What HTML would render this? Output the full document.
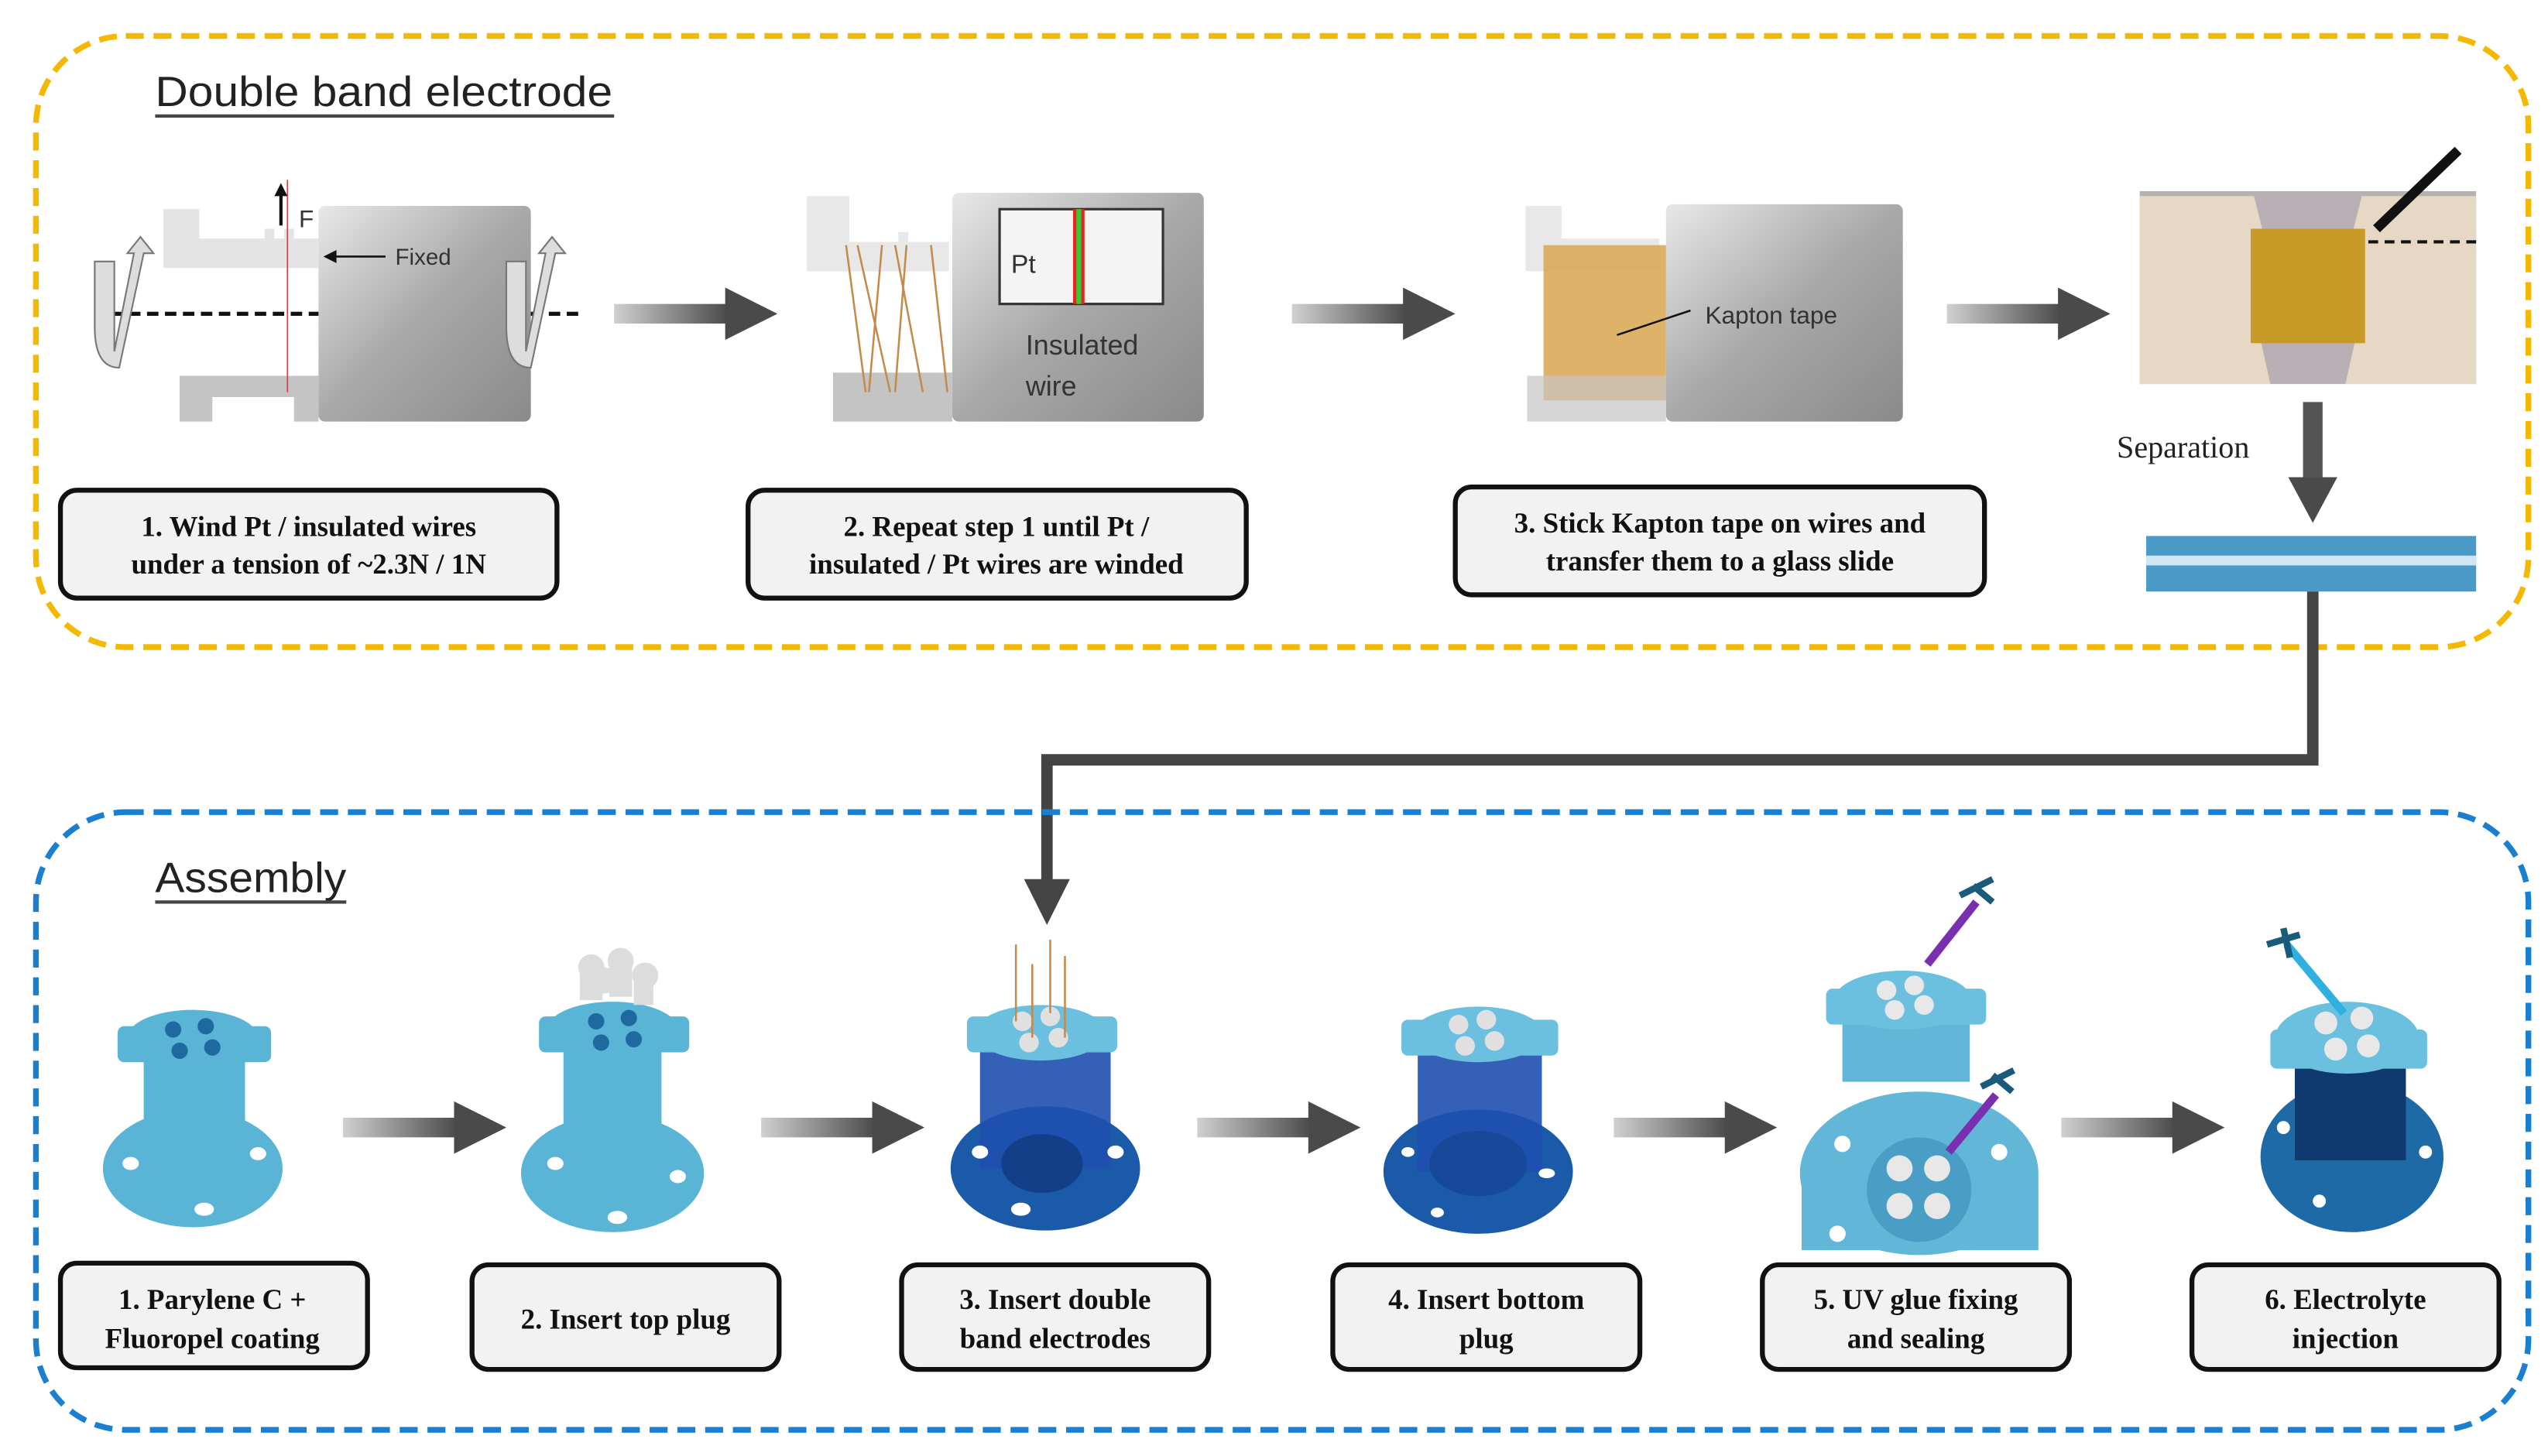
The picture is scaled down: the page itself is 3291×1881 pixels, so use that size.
<!DOCTYPE html>
<html><head><meta charset="utf-8"><style>
html,body{margin:0;padding:0;background:#fff;}
svg{display:block;}
.lbl{font-family:"Liberation Serif",serif;font-weight:bold;font-size:17.5px;fill:#111;text-anchor:middle;}
.ttl{font-family:"Liberation Sans",sans-serif;font-size:26px;fill:#222;}
.sm{font-family:"Liberation Sans",sans-serif;font-size:15px;fill:#333;}
</style></head><body>
<svg width="3291" height="1881" viewBox="0 0 1560 891" preserveAspectRatio="none" xmlns="http://www.w3.org/2000/svg">
<defs>
<linearGradient id="sh" x1="0" x2="1"><stop offset="0" stop-color="#d0d0d0"/><stop offset="1" stop-color="#4a4a4a"/></linearGradient>
<linearGradient id="gb" x1="0" x2="1" y1="0" y2="1"><stop offset="0" stop-color="#e8e8e8"/><stop offset="0.5" stop-color="#a8a8a8"/><stop offset="1" stop-color="#8a8a8a"/></linearGradient>
<g id="arr"><rect x="0" y="-6" width="70" height="12" fill="url(#sh)"/><polygon points="68,-16 100,0 68,16" fill="#4a4a4a"/></g>
<g id="box"><rect x="0" y="0" width="188" height="64" rx="10" fill="#f2f2f2" stroke="#111" stroke-width="3"/></g>
</defs>

<!-- Yellow region -->
<rect x="22" y="22" width="1526" height="374" rx="55" fill="none" stroke="#f5b800" stroke-width="3.5" stroke-dasharray="11,6"/>
<text x="95" y="65" class="ttl" textLength="280" lengthAdjust="spacingAndGlyphs">Double band electrode</text>
<line x1="95" y1="71" x2="376" y2="71" stroke="#444" stroke-width="2"/>

<!-- device 1 -->
<g>
<path d="M100,128 h22 v18 h40 v-6 h6 v6 h6 v-6 h6 v6 h15 v18 h-95z" fill="#e4e4e4"/>
<rect x="195" y="126" width="130" height="132" rx="4" fill="url(#gb)"/>
<path d="M110,230 h85 v28 h-85z M130,258 h50 v-15 h-50z" fill="#c4c4c4"/>
<line x1="176" y1="110" x2="176" y2="240" stroke="#e33" stroke-width="0.8"/>
<line x1="172" y1="138" x2="172" y2="118" stroke="#111" stroke-width="2"/><polygon points="168,120 172,112 176,120" fill="#111"/>
<text x="183" y="139" class="sm">F</text>
<line x1="200" y1="157" x2="236" y2="157" stroke="#111" stroke-width="1.2"/><polygon points="198,157 206,153 206,161" fill="#111"/>
<text x="242" y="162" class="sm" style="font-size:14px">Fixed</text>
<line x1="68" y1="192" x2="195" y2="192" stroke="#111" stroke-width="2.5" stroke-dasharray="7,4"/>
<line x1="325" y1="192" x2="355" y2="192" stroke="#111" stroke-width="2.5" stroke-dasharray="7,4"/>
<path d="M58,160 v40 q0,25 15,25 l15,-70 h6 l-8,-10 l-8,10 h4 l-12,60 v-55z" fill="#ddd" stroke="#777"/>
<path d="M310,160 v40 q0,25 15,25 l15,-70 h6 l-8,-10 l-8,10 h4 l-12,60 v-55z" fill="#ddd" stroke="#777"/>
</g>
<use href="#arr" x="376" y="192"/>

<!-- device 2 -->
<g>
<path d="M494,120 h26 v28 h30 v-6 h6 v6 h25 v18 h-87z" fill="#e8e8e8"/>
<rect x="583" y="118" width="154" height="140" rx="4" fill="url(#gb)"/>
<path d="M510,228 h73 v30 h-73z" fill="#c4c4c4"/>
<g stroke="#c58a4a" stroke-width="1.2"><line x1="518" y1="150" x2="530" y2="240"/><line x1="525" y1="150" x2="545" y2="240"/><line x1="540" y1="150" x2="532" y2="240"/><line x1="548" y1="150" x2="565" y2="240"/><line x1="555" y1="150" x2="548" y2="240"/><line x1="570" y1="150" x2="580" y2="240"/></g>
<rect x="612" y="128" width="100" height="58" fill="#f4f4f4" stroke="#333" stroke-width="1.5"/>
<rect x="657" y="128" width="7" height="58" fill="#e22"/><rect x="659" y="128" width="3" height="58" fill="#3c3"/>
<text x="619" y="167" class="sm" style="font-size:16px">Pt</text>
<text x="628" y="217" class="sm" style="font-size:17px">Insulated</text>
<text x="628" y="242" class="sm" style="font-size:17px">wire</text>
</g>
<use href="#arr" x="791" y="192"/>

<!-- device 3 -->
<g>
<path d="M934,126 h22 v20 h60 v20 h-82z" fill="#e8e8e8"/>
<rect x="1020" y="125" width="145" height="133" rx="4" fill="url(#gb)"/>
<rect x="945" y="150" width="75" height="95" fill="#d9a550" opacity="0.85"/>
<path d="M935,230 h85 v28 h-85z" fill="#c4c4c4" opacity="0.7"/>
<line x1="990" y1="205" x2="1035" y2="190" stroke="#111" stroke-width="1.2"/>
<text x="1044" y="198" class="sm" style="font-size:15px">Kapton tape</text>
</g>
<use href="#arr" x="1192" y="192"/>

<!-- photo -->
<rect x="1310" y="117" width="206" height="118" fill="#b8b0b4"/>
<path d="M1310,120 h70 l10,40 l-10,30 l10,45 h-80z" fill="#e6d8c4"/>
<path d="M1516,120 h-70 l-10,40 l10,30 l-10,45 h80z" fill="#e6d8c4"/>
<rect x="1378" y="140" width="70" height="70" fill="#c89a28"/>
<line x1="1450" y1="148" x2="1516" y2="148" stroke="#111" stroke-width="2" stroke-dasharray="6,4"/>
<line x1="1455" y1="140" x2="1505" y2="92" stroke="#111" stroke-width="6"/>
<text x="1296" y="280" style="font-family:'Liberation Serif',serif;font-size:19px;fill:#222">Separation</text>
<rect x="1410" y="246" width="12" height="50" fill="#555"/>
<polygon points="1401,292 1431,292 1416,320" fill="#4a4a4a"/>
<rect x="1314" y="328" width="202" height="34" fill="#4a9ac8"/>
<rect x="1314" y="340" width="202" height="6" fill="#cfe6f3"/>

<!-- connector -->
<polyline points="1416,362 1416,465 641,465 641,540" fill="none" stroke="#444" stroke-width="7"/>
<polygon points="627,538 655,538 641,566" fill="#444"/>

<!-- Top labels -->
<rect x="37" y="300" width="304" height="66" rx="10" fill="#f2f2f2" stroke="#111" stroke-width="3"/>
<text x="189" y="328" class="lbl">1. Wind Pt / insulated  wires</text>
<text x="189" y="351" class="lbl">under a tension of ~2.3N / 1N</text>
<rect x="458" y="300" width="305" height="66" rx="10" fill="#f2f2f2" stroke="#111" stroke-width="3"/>
<text x="610" y="328" class="lbl">2. Repeat step 1 until Pt /</text>
<text x="610" y="351" class="lbl">insulated / Pt wires are winded</text>
<rect x="891" y="298" width="324" height="66" rx="10" fill="#f2f2f2" stroke="#111" stroke-width="3"/>
<text x="1053" y="326" class="lbl">3. Stick Kapton tape on wires and</text>
<text x="1053" y="349" class="lbl">transfer them to a glass slide</text>

<!-- Blue region -->
<rect x="22" y="497" width="1526" height="378" rx="55" fill="none" stroke="#1a7fd0" stroke-width="3.5" stroke-dasharray="11,6"/>
<text x="95" y="546" class="ttl" textLength="117" lengthAdjust="spacingAndGlyphs">Assembly</text>
<line x1="95" y1="552" x2="212" y2="552" stroke="#444" stroke-width="2"/>

<!-- device 1 -->
<g fill="#5ab4d6">
<ellipse cx="118" cy="715" rx="55" ry="36"/>
<rect x="88" y="635" width="62" height="80"/>
<rect x="72" y="628" width="94" height="22" rx="4"/>
<ellipse cx="118" cy="635" rx="40" ry="17"/>
</g>
<g fill="#1e6aa0"><circle cx="106" cy="630" r="5"/><circle cx="126" cy="628" r="5"/><circle cx="110" cy="643" r="5"/><circle cx="130" cy="641" r="5"/></g>
<g fill="#fff"><ellipse cx="80" cy="712" rx="5" ry="4"/><ellipse cx="158" cy="706" rx="5" ry="4"/><ellipse cx="125" cy="740" rx="6" ry="4"/></g>
<use href="#arr" x="210" y="690"/>

<!-- device 2 -->
<g fill="#5ab4d6">
<ellipse cx="375" cy="718" rx="56" ry="36"/>
<rect x="345" y="628" width="60" height="90"/>
<rect x="330" y="622" width="92" height="22" rx="4"/>
<ellipse cx="375" cy="630" rx="40" ry="17"/>
</g>
<g fill="#1e6aa0"><circle cx="365" cy="625" r="5"/><circle cx="385" cy="623" r="5"/><circle cx="368" cy="638" r="5"/><circle cx="388" cy="636" r="5"/></g>
<g fill="#dcdcdc"><rect x="355" y="590" width="14" height="22"/><rect x="373" y="588" width="14" height="22"/><rect x="388" y="595" width="12" height="20"/><circle cx="362" cy="592" r="8"/><circle cx="380" cy="588" r="8"/><circle cx="395" cy="597" r="8"/><circle cx="370" cy="600" r="8"/></g>
<g fill="#fff"><ellipse cx="340" cy="712" rx="5" ry="4"/><ellipse cx="415" cy="720" rx="5" ry="4"/><ellipse cx="378" cy="745" rx="6" ry="4"/></g>
<use href="#arr" x="466" y="690"/>

<!-- device 3 -->
<g>
<ellipse cx="640" cy="715" rx="58" ry="38" fill="#1a5aa8"/>
<rect x="600" y="635" width="80" height="80" fill="#1f4fb0" opacity="0.9"/>
<rect x="592" y="622" width="92" height="22" rx="4" fill="#6ac0de"/>
<ellipse cx="637" cy="632" rx="40" ry="17" fill="#6ac0de"/>
<g fill="#e0e0e0"><circle cx="626" cy="625" r="6"/><circle cx="643" cy="622" r="6"/><circle cx="630" cy="638" r="6"/><circle cx="648" cy="635" r="6"/></g>
<g stroke="#c58a4a" stroke-width="1.2"><line x1="622" y1="578" x2="622" y2="625"/><line x1="632" y1="590" x2="632" y2="635"/><line x1="643" y1="575" x2="643" y2="620"/><line x1="652" y1="585" x2="652" y2="635"/></g>
<ellipse cx="638" cy="712" rx="25" ry="18" fill="#123f88"/>
<g fill="#fff"><ellipse cx="600" cy="705" rx="5" ry="4"/><ellipse cx="683" cy="705" rx="5" ry="4"/><ellipse cx="625" cy="740" rx="6" ry="4"/></g>
</g>
<use href="#arr" x="733" y="690"/>

<!-- device 4 -->
<g>
<ellipse cx="905" cy="717" rx="58" ry="38" fill="#1a5aa8"/>
<rect x="868" y="640" width="76" height="77" fill="#1f4fb0" opacity="0.9"/>
<rect x="858" y="624" width="96" height="22" rx="4" fill="#6ac0de"/>
<ellipse cx="905" cy="633" rx="40" ry="17" fill="#6ac0de"/>
<g fill="#e0e0e0"><circle cx="893" cy="627" r="6"/><circle cx="910" cy="624" r="6"/><circle cx="897" cy="640" r="6"/><circle cx="915" cy="637" r="6"/></g>
<ellipse cx="905" cy="712" rx="30" ry="20" fill="#164a98"/>
<g fill="#fff"><ellipse cx="862" cy="705" rx="4" ry="3"/><ellipse cx="947" cy="718" rx="5" ry="3"/><ellipse cx="880" cy="742" rx="4" ry="3"/></g>
</g>
<use href="#arr" x="988" y="690"/>

<!-- device 5 -->
<g>
<rect x="1128" y="612" width="78" height="50" fill="#62b6d8"/>
<rect x="1118" y="605" width="98" height="22" rx="4" fill="#6ac0de"/>
<ellipse cx="1165" cy="612" rx="42" ry="18" fill="#6ac0de"/>
<g fill="#e8e8e8"><circle cx="1155" cy="606" r="6"/><circle cx="1172" cy="603" r="6"/><circle cx="1160" cy="618" r="6"/><circle cx="1178" cy="615" r="6"/></g>
<rect x="1103" y="720" width="145" height="45" fill="#62b6d8"/>
<ellipse cx="1175" cy="718" rx="73" ry="50" fill="#62b6d8"/>
<ellipse cx="1175" cy="728" rx="32" ry="32" fill="#4a9ec6"/>
<g fill="#e8e8e8"><circle cx="1163" cy="715" r="8"/><circle cx="1186" cy="715" r="8"/><circle cx="1163" cy="738" r="8"/><circle cx="1186" cy="738" r="8"/></g>
<g fill="#fff"><circle cx="1128" cy="700" r="5"/><circle cx="1224" cy="705" r="5"/><circle cx="1125" cy="755" r="5"/></g>
<line x1="1180" y1="590" x2="1210" y2="552" stroke="#7a2fb0" stroke-width="5"/>
<path d="M1200,548 l20,-10 M1208,542 l12,10" stroke="#1a5a7a" stroke-width="4"/>
<line x1="1193" y1="705" x2="1222" y2="670" stroke="#7a2fb0" stroke-width="5"/>
<path d="M1213,665 l20,-10 M1220,658 l12,10" stroke="#1a5a7a" stroke-width="4"/>
</g>
<use href="#arr" x="1262" y="690"/>

<!-- device 6 -->
<g>
<ellipse cx="1440" cy="708" rx="56" ry="46" fill="#1e6aa6"/>
<rect x="1405" y="645" width="68" height="65" fill="#0f3a70"/>
<rect x="1390" y="630" width="96" height="24" rx="4" fill="#6ac0de"/>
<ellipse cx="1437" cy="635" rx="44" ry="22" fill="#6ac0de"/>
<g fill="#e8e8e8"><circle cx="1424" cy="626" r="7"/><circle cx="1446" cy="623" r="7"/><circle cx="1430" cy="642" r="7"/><circle cx="1450" cy="640" r="7"/></g>
<g fill="#fff"><circle cx="1398" cy="690" r="4"/><circle cx="1485" cy="705" r="4"/><circle cx="1420" cy="735" r="4"/></g>
<line x1="1400" y1="578" x2="1435" y2="620" stroke="#30b0e0" stroke-width="5"/>
<path d="M1388,578 l20,-6 M1398,568 l4,18" stroke="#1a5a7a" stroke-width="4"/>
</g>

<!-- bottom labels -->
<use href="#box" x="37" y="773"/>
<text x="130" y="801" class="lbl">1. Parylene C +</text>
<text x="130" y="825" class="lbl">Fluoropel coating</text>
<use href="#box" x="289" y="774"/>
<text x="383" y="813" class="lbl">2. Insert top plug</text>
<use href="#box" x="552" y="774"/>
<text x="646" y="801" class="lbl">3. Insert double</text>
<text x="646" y="825" class="lbl">band electrodes</text>
<use href="#box" x="816" y="774"/>
<text x="910" y="801" class="lbl">4. Insert bottom</text>
<text x="910" y="825" class="lbl">plug</text>
<use href="#box" x="1079" y="774"/>
<text x="1173" y="801" class="lbl">5. UV glue fixing</text>
<text x="1173" y="825" class="lbl">and sealing</text>
<use href="#box" x="1342" y="774"/>
<text x="1436" y="801" class="lbl">6. Electrolyte</text>
<text x="1436" y="825" class="lbl">injection</text>
</svg>
</body></html>
